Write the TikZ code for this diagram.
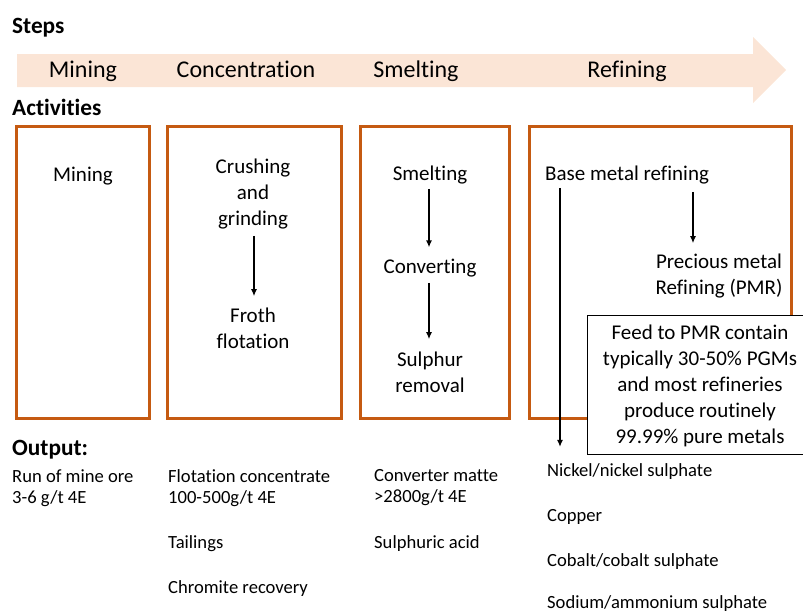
\documentclass[tikz,border=0pt]{standalone}
\usepackage{fontspec}
\setmainfont{Carlito}[Ligatures={NoCommon}]
\usetikzlibrary{arrows.meta}
\definecolor{boxorange}{HTML}{C55A11}
\definecolor{peach}{HTML}{FBE5D6}
\tikzset{
  hdr/.style={anchor=base west, inner sep=0pt, font=\fontsize{23.3}{28}\selectfont\bfseries},
  steplbl/.style={anchor=base, inner sep=0pt, font=\fontsize{24}{29}\selectfont},
  actbox/.style={draw=boxorange, line width=3pt},
  act/.style={anchor=base, inner sep=0pt, align=center, font=\fontsize{21}{26}\selectfont},
  outtxt/.style={anchor=base west, inner sep=0pt, align=left, font=\fontsize{18.6}{21}\selectfont},
  notebox/.style={draw=black, line width=0.8pt, fill=white},
  arr/.style={line width=1.3pt, -{Latex[length=7pt,width=6pt]}}
}
\begin{document}
\begin{tikzpicture}[x=1pt,y=-1pt]
\useasboundingbox (0,0) rectangle (803,613);
% headers
\node[hdr] (steps) at (12,33) {Steps};
\node[hdr] (activities) at (12,115) {Activities};
\node[hdr] (output) at (12,455) {Output:};
% process arrow
\fill[peach] (17,54) -- (753,54) -- (753,37) -- (786,70) -- (753,103) -- (753,87) -- (17,87) -- cycle;
\node[steplbl] (s1) at (83,77) {Mining};
\node[steplbl] (s2) at (246,77) {Concentration};
\node[steplbl] (s3) at (416,77) {Smelting};
\node[steplbl] (s4) at (627,77) {Refining};
% boxes
\draw[actbox] (16,126) rectangle (149,418);
\draw[actbox] (167,126) rectangle (341,418);
\draw[actbox] (360,126) rectangle (509,418);
\draw[actbox] (529,126) rectangle (791,418);
% box 1
\node[act] (mine) at (83,181) {Mining};
% box 2 (base anchor = last line baseline)
\node[act] (crush) at (253,225) {Crushing\\and\\grinding};
\node[act] (froth) at (253,348) {Froth\\flotation};
\draw[arr, shorten <=7pt, shorten >=11pt] (crush.south -| 254,0) -- (froth.north -| 254,0);
% box 3
\node[act] (smelt) at (430,180) {Smelting};
\node[act] (conv) at (430,273) {Converting};
\node[act] (sulph) at (430,392) {Sulphur\\removal};
\draw[arr, shorten <=5pt, shorten >=11pt] (smelt.south -| 429,0) -- (conv.north -| 429,0);
\draw[arr, shorten <=6pt, shorten >=12pt] (conv.south -| 429,0) -- (sulph.north -| 429,0);
% box 4
\node[act, anchor=base west] (bmr) at (545,180) {Base metal refining};
\node[act] (pmr) at (719,294) {Precious metal\\Refining (PMR)};
\draw[arr, shorten <=8pt, shorten >=10pt] (bmr.south -| 693,0) -- (pmr.north -| 693,0);
% note
\node[notebox, minimum width=216pt, minimum height=139pt, anchor=north west] (note) at (587,315) {};
\node[act] (notetxt) at (700,443) {Feed to PMR contain\\typically 30-50\% PGMs\\and most refineries\\produce routinely\\99.99\% pure metals};
% outputs
\node[outtxt] (o1) at (12,503) {Run of mine ore\\3-6 g/t 4E};
\node[outtxt] (o2a) at (168,503) {Flotation concentrate\\100-500g/t 4E};
\node[outtxt] (o2b) at (168,548) {Tailings};
\node[outtxt] (o2c) at (168,593) {Chromite recovery};
\node[outtxt] (o3a) at (374,502) {Converter matte\\>2800g/t 4E};
\node[outtxt] (o3b) at (374,548) {Sulphuric acid};
\node[outtxt] (o4a) at (547,476) {Nickel/nickel sulphate};
\node[outtxt] (o4b) at (547,521) {Copper};
\node[outtxt] (o4c) at (547,566) {Cobalt/cobalt sulphate};
\node[outtxt] (o4d) at (547,608) {Sodium/ammonium sulphate};
\draw[arr, shorten <=4pt, shorten >=16pt] (bmr.south -| 560,0) -- (o4a.north -| 560,0);
\end{tikzpicture}
\end{document}
